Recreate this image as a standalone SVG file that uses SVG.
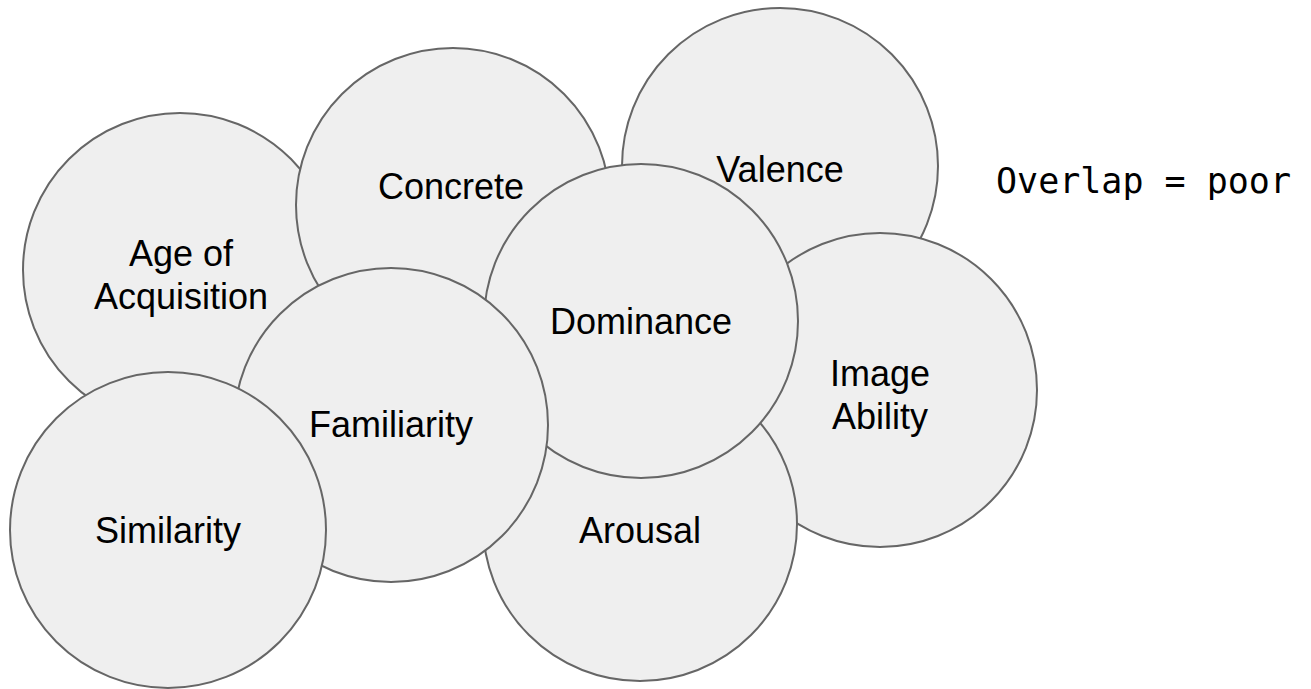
<svg xmlns="http://www.w3.org/2000/svg" width="1311" height="689" viewBox="0 0 1311 689">
<style>
.c{fill:#efefef;stroke:#666666;stroke-width:2}
.t{font-family:"Liberation Sans",Arial,sans-serif;font-size:36px;fill:#000;text-anchor:middle}
.m{font-family:"DejaVu Sans Mono",monospace;font-size:35px;fill:#000}
</style>
<rect width="1311" height="689" fill="#ffffff"/>
<g id="connectors"></g>
<g id="age"><circle class="c" cx="180" cy="270" r="157"/><text class="t" x="181" y="266">Age of</text><text class="t" x="181" y="309">Acquisition</text></g>
<g id="concrete"><circle class="c" cx="453" cy="205" r="157"/><text class="t" x="451" y="199">Concrete</text></g>
<g id="valence"><circle class="c" cx="780" cy="166" r="158"/><text class="t" x="780" y="182">Valence</text></g>
<g id="imageability"><circle class="c" cx="880" cy="390" r="157"/><text class="t" x="880" y="386">Image</text><text class="t" x="880" y="429">Ability</text></g>
<g id="arousal"><circle class="c" cx="640" cy="524" r="157"/><text class="t" x="640" y="543">Arousal</text></g>
<g id="dominance"><circle class="c" cx="641" cy="321" r="157"/><text class="t" x="641" y="334">Dominance</text></g>
<g id="familiarity"><circle class="c" cx="391" cy="425" r="157"/><text class="t" x="391" y="437">Familiarity</text></g>
<g id="similarity"><circle class="c" cx="168" cy="530" r="158"/><text class="t" x="168" y="543">Similarity</text></g>
<text class="m" x="996" y="193">Overlap = poor</text>
</svg>
